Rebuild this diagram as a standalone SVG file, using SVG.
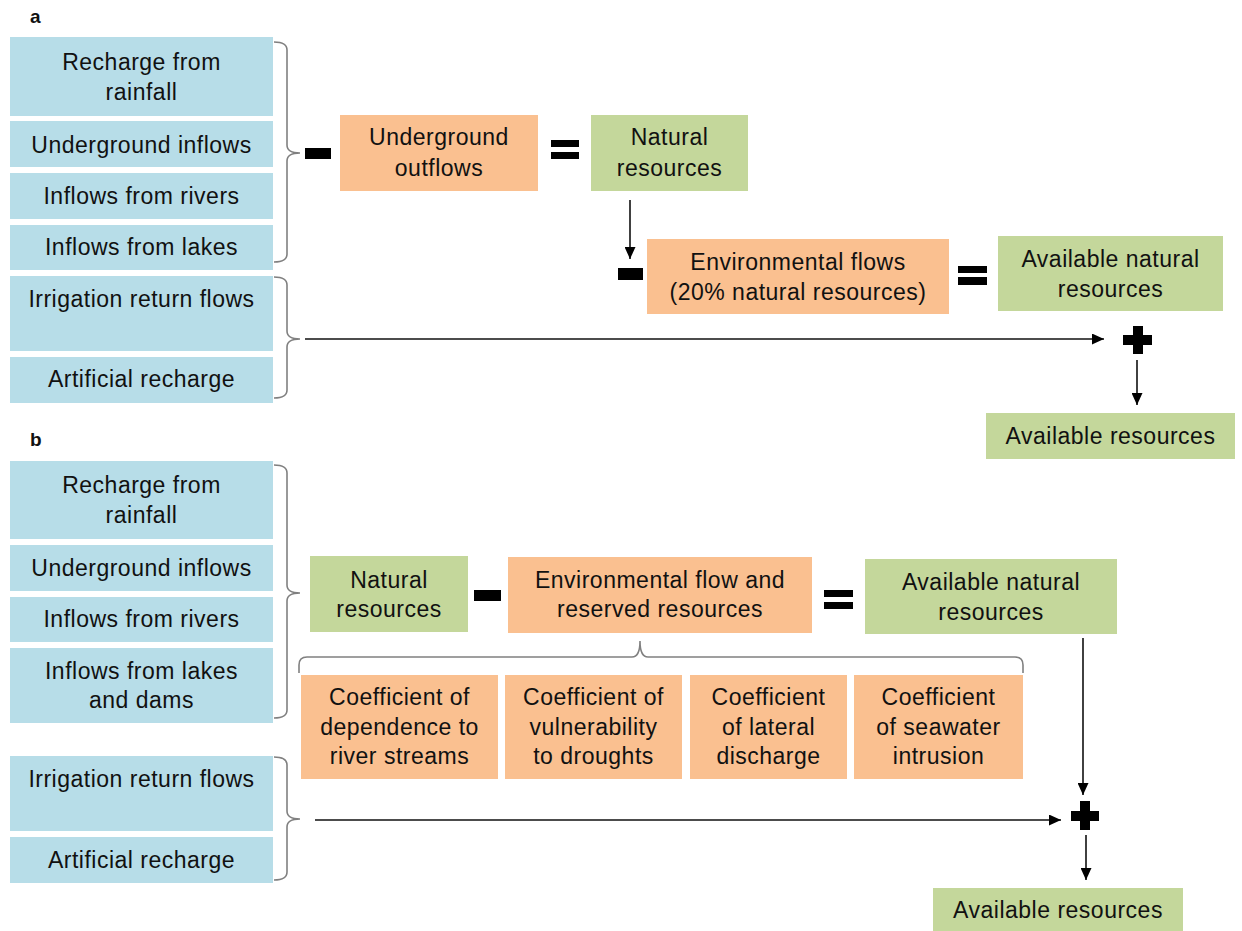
<svg xmlns="http://www.w3.org/2000/svg" width="1242" height="931" viewBox="0 0 1242 931">
<defs>
<style>
.t{font-family:"Liberation Sans",Arial,sans-serif;font-size:23px;fill:#111;text-anchor:middle;letter-spacing:0.5px}
.lbl{font-family:"Liberation Sans",Arial,sans-serif;font-size:19px;font-weight:bold;fill:#111}
.blue{fill:#b7dde8}
.org{fill:#fac090}
.grn{fill:#c4d79b}
.brace{fill:none;stroke:#808080;stroke-width:1.6}
.ln{fill:none;stroke:#111;stroke-width:1.6}
.op{fill:#000}
</style>
<marker id="ah" viewBox="0 0 12 11" refX="12" refY="5.5" markerWidth="12" markerHeight="11" markerUnits="userSpaceOnUse" orient="auto">
<path d="M0,0 L12,5.5 L0,11 z" fill="#000"/>
</marker>
</defs>
<rect width="1242" height="931" fill="#fff"/>

<text class="lbl" x="30" y="23">a</text>
<text class="lbl" x="30" y="446">b</text>

<!-- Panel a nodes -->
<g id="a-recharge"><rect class="blue" x="10" y="37" width="263" height="79"/><text class="t" x="141.5" y="70">Recharge from</text><text class="t" x="141.5" y="100">rainfall</text></g>
<g id="a-underground-inflows"><rect class="blue" x="10" y="121" width="263" height="46"/><text class="t" x="141.5" y="153">Underground inflows</text></g>
<g id="a-rivers"><rect class="blue" x="10" y="173" width="263" height="46"/><text class="t" x="141.5" y="204">Inflows from rivers</text></g>
<g id="a-lakes"><rect class="blue" x="10" y="225" width="263" height="45"/><text class="t" x="141.5" y="255">Inflows from lakes</text></g>
<g id="a-irrigation"><rect class="blue" x="10" y="276" width="263" height="75"/><text class="t" x="141.5" y="307">Irrigation return flows</text></g>
<g id="a-artificial"><rect class="blue" x="10" y="357" width="263" height="46"/><text class="t" x="141.5" y="387">Artificial recharge</text></g>
<g id="a-outflows"><rect class="org" x="340" y="115" width="198" height="76"/><text class="t" x="439" y="145">Underground</text><text class="t" x="439" y="176">outflows</text></g>
<g id="a-natural"><rect class="grn" x="591" y="115" width="157" height="76"/><text class="t" x="669.5" y="145">Natural</text><text class="t" x="669.5" y="176">resources</text></g>
<g id="a-envflows"><rect class="org" x="647" y="239" width="302" height="75"/><text class="t" x="798" y="270">Environmental flows</text><text class="t" x="798" y="300">(20% natural resources)</text></g>
<g id="a-avail-natural"><rect class="grn" x="998" y="236" width="225" height="75"/><text class="t" x="1110.5" y="267">Available natural</text><text class="t" x="1110.5" y="297">resources</text></g>
<g id="a-avail"><rect class="grn" x="986" y="413" width="249" height="46"/><text class="t" x="1110.5" y="444">Available resources</text></g>

<!-- Panel b nodes -->
<g id="b-recharge"><rect class="blue" x="10" y="461" width="263" height="78"/><text class="t" x="141.5" y="493">Recharge from</text><text class="t" x="141.5" y="523">rainfall</text></g>
<g id="b-underground-inflows"><rect class="blue" x="10" y="545" width="263" height="46"/><text class="t" x="141.5" y="576">Underground inflows</text></g>
<g id="b-rivers"><rect class="blue" x="10" y="597" width="263" height="45"/><text class="t" x="141.5" y="627">Inflows from rivers</text></g>
<g id="b-lakes"><rect class="blue" x="10" y="648" width="263" height="75"/><text class="t" x="141.5" y="679">Inflows from lakes</text><text class="t" x="141.5" y="708">and dams</text></g>
<g id="b-irrigation"><rect class="blue" x="10" y="756" width="263" height="75"/><text class="t" x="141.5" y="787">Irrigation return flows</text></g>
<g id="b-artificial"><rect class="blue" x="10" y="837" width="263" height="46"/><text class="t" x="141.5" y="868">Artificial recharge</text></g>
<g id="b-natural"><rect class="grn" x="310" y="556" width="158" height="76"/><text class="t" x="389" y="588">Natural</text><text class="t" x="389" y="617">resources</text></g>
<g id="b-envflow"><rect class="org" x="508" y="557" width="304" height="76"/><text class="t" x="660" y="588">Environmental flow and</text><text class="t" x="660" y="617">reserved resources</text></g>
<g id="b-avail-natural"><rect class="grn" x="865" y="559" width="252" height="75"/><text class="t" x="991" y="590">Available natural</text><text class="t" x="991" y="620">resources</text></g>
<g id="b-coef1"><rect class="org" x="301" y="675" width="197" height="104"/><text class="t" x="399.5" y="705">Coefficient of</text><text class="t" x="399.5" y="735">dependence to</text><text class="t" x="399.5" y="764">river streams</text></g>
<g id="b-coef2"><rect class="org" x="505" y="675" width="177" height="104"/><text class="t" x="593.5" y="705">Coefficient of</text><text class="t" x="593.5" y="735">vulnerability</text><text class="t" x="593.5" y="764">to droughts</text></g>
<g id="b-coef3"><rect class="org" x="690" y="675" width="157" height="104"/><text class="t" x="768.5" y="705">Coefficient</text><text class="t" x="768.5" y="735">of lateral</text><text class="t" x="768.5" y="764">discharge</text></g>
<g id="b-coef4"><rect class="org" x="854" y="675" width="169" height="104"/><text class="t" x="938.5" y="705">Coefficient</text><text class="t" x="938.5" y="735">of seawater</text><text class="t" x="938.5" y="764">intrusion</text></g>
<g id="b-avail"><rect class="grn" x="933" y="888" width="250" height="43"/><text class="t" x="1058" y="918">Available resources</text></g>

<!-- operators -->
<g id="operators">
<rect class="op" x="305" y="148" width="26" height="11"/>
<rect class="op" x="551" y="140" width="28" height="7"/><rect class="op" x="551" y="152" width="28" height="7"/>
<rect class="op" x="618" y="268" width="25" height="12"/>
<rect class="op" x="958" y="266" width="29" height="7"/><rect class="op" x="958" y="277" width="29" height="8"/>
<rect class="op" x="1123" y="335" width="29" height="10"/><rect class="op" x="1133" y="326" width="10" height="28"/>
<rect class="op" x="474" y="590" width="27" height="11"/>
<rect class="op" x="824" y="590" width="29" height="7"/><rect class="op" x="824" y="602" width="29" height="7"/>
<rect class="op" x="1071" y="811" width="28" height="10"/><rect class="op" x="1080" y="801" width="10" height="29"/>
</g>

<!-- connectors -->
<g id="connectors">
<path class="brace" d="M274,42 Q287,42 287,50 L287,145 Q287,153 300,153 Q287,153 287,161 L287,254 Q287,262 274,262"/>
<path class="brace" d="M274,277 Q287,277 287,285 L287,331 Q287,339 300,339 Q287,339 287,347 L287,390 Q287,398 274,398"/>
<path class="brace" d="M274,465 Q287,465 287,473 L287,585 Q287,593 300,593 Q287,593 287,601 L287,710 Q287,718 274,718"/>
<path class="brace" d="M274,757 Q287,757 287,765 L287,811 Q287,819 300,819 Q287,819 287,827 L287,872 Q287,880 274,880"/>
<path class="brace" d="M299,673 L299,665 Q299,657 307,657 L632,657 Q640,657 640,641 Q640,657 648,657 L1015,657 Q1023,657 1023,665 L1023,673"/>
<line class="ln" x1="630" y1="200" x2="630" y2="259" marker-end="url(#ah)"/>
<line class="ln" x1="305" y1="339" x2="1104" y2="339" marker-end="url(#ah)"/>
<line class="ln" x1="1137" y1="360" x2="1137" y2="405" marker-end="url(#ah)"/>
<line class="ln" x1="1083" y1="638" x2="1083" y2="795" marker-end="url(#ah)"/>
<line class="ln" x1="315" y1="820" x2="1061" y2="820" marker-end="url(#ah)"/>
<line class="ln" x1="1086" y1="835" x2="1086" y2="880" marker-end="url(#ah)"/>
</g>
</svg>
